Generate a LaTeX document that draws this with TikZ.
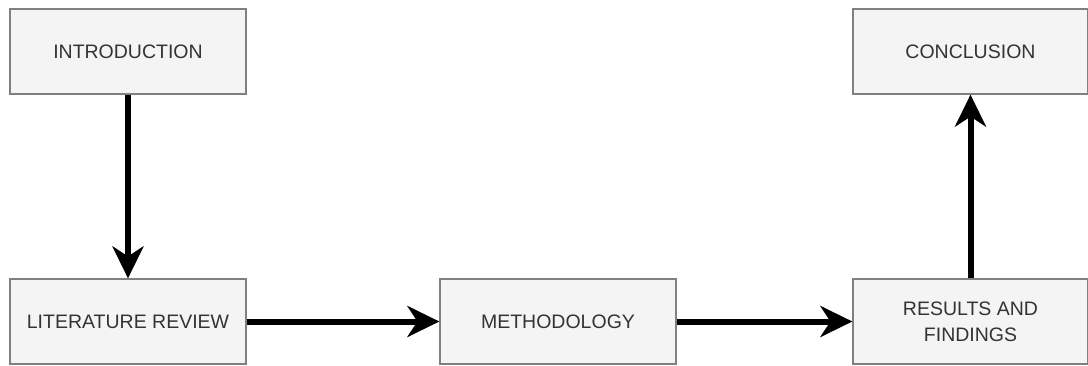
\documentclass[tikz,border=0pt]{standalone}
\usepackage{fontspec}
\setmainfont{Liberation Sans}
\usepackage{tikz}
\usetikzlibrary{arrows.meta,positioning}

\definecolor{boxfill}{HTML}{F4F4F4}
\definecolor{boxline}{HTML}{808080}
\definecolor{boxtext}{HTML}{333333}

\begin{document}
\begin{tikzpicture}[x=1pt, y=-1pt]
			\tikzstyle{Stage}	= [rectangle, draw=boxline, line width=1.2pt, fill=boxfill, text=boxtext, minimum width=236pt, minimum height=85pt, inner sep=0pt, align=center, font=\fontsize{19.5}{26}\selectfont]
			\tikzstyle{Flow}	= [line width=6pt, -{Stealth[length=32pt, width=31pt, inset=10pt]}]
			
			\useasboundingbox (0,0) rectangle (1088,365);
			
			\node (intro) at (128, 51.5) [Stage] {INTRODUCTION};
			\node (lit) at (128, 321.5) [Stage] {LITERATURE REVIEW};
			\node (meth) at (558, 321.5) [Stage] {METHODOLOGY};
			\node (res) at (970.5, 321.5) [Stage, minimum width=235pt] {RESULTS AND\\FINDINGS};
			\node (conc) at (970.5, 51.5) [Stage, minimum width=235pt] {CONCLUSION};
			
			\draw (intro) to (lit) [Flow];
			\draw (lit) to (meth) [Flow];
			\draw (meth) to (res) [Flow];
			\draw (res) to (conc) [Flow];
		\end{tikzpicture}
\end{document}
